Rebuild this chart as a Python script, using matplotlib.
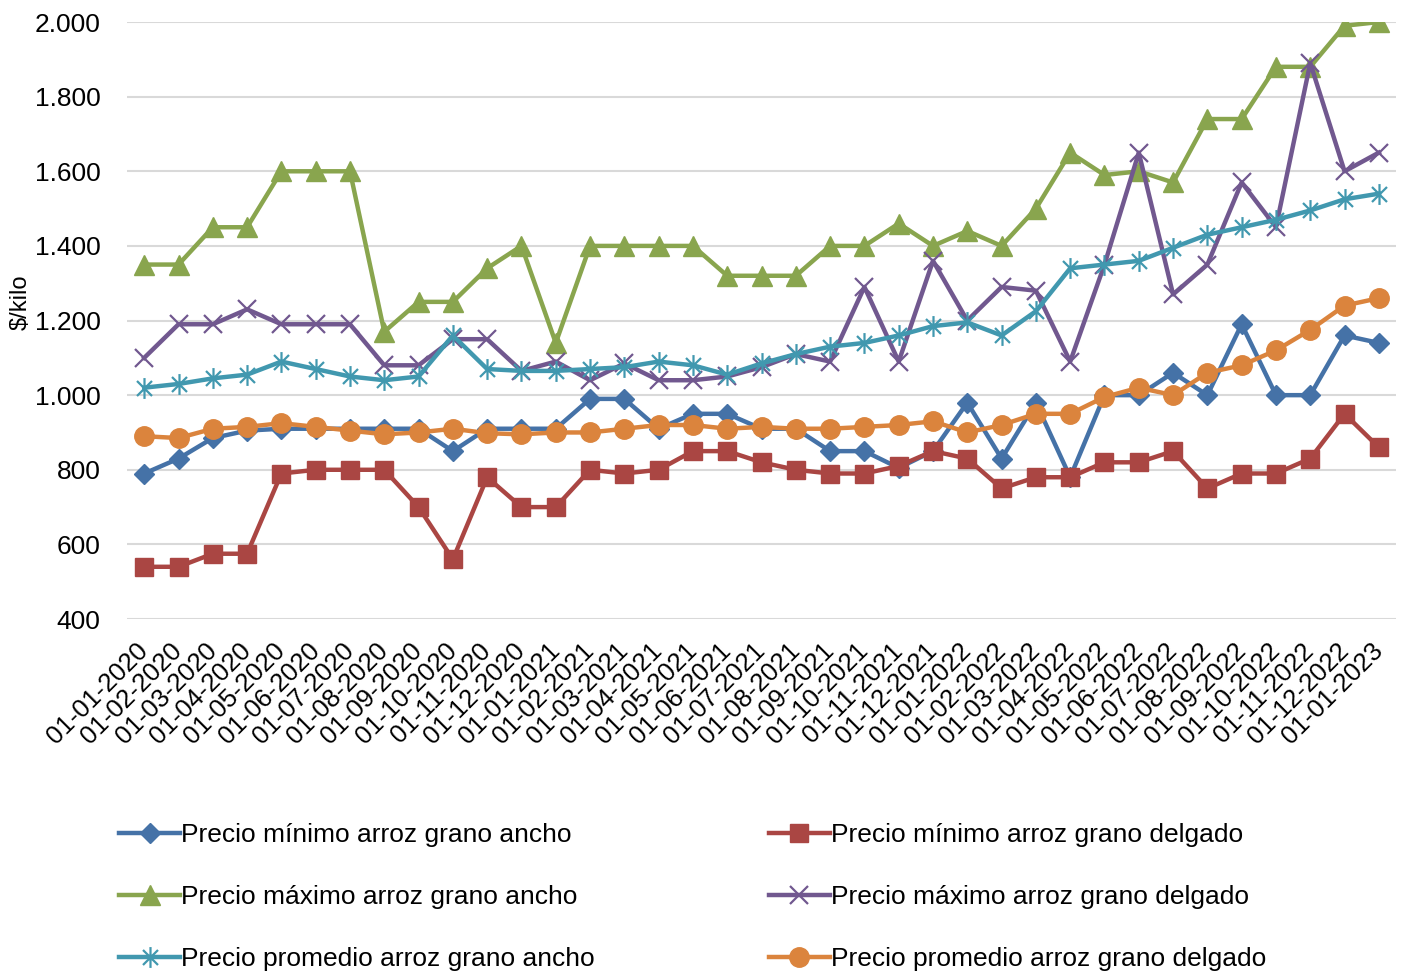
import matplotlib
matplotlib.use("Agg")
import matplotlib.pyplot as plt
from matplotlib.path import Path
from matplotlib.ticker import FuncFormatter, MultipleLocator

plt.rcParams['font.family'] = ['Liberation Sans', 'DejaVu Sans']

# Fechas (primer día de cada mes)
fechas = ["01-%02d-%d" % (m, a) for a in (2020, 2021, 2022) for m in range(1, 13)] + ["01-01-2023"]

min_ancho = [790, 830, 885, 905, 910, 910, 910, 910, 910, 850, 910, 910,
             910, 990, 990, 910, 950, 950, 910, 910, 850, 850, 805, 850,
             980, 830, 980, 780, 1000, 1000, 1060, 1000, 1190, 1000, 1000, 1160,
             1140]
min_delgado = [540, 540, 575, 575, 790, 800, 800, 800, 700, 560, 780, 700,
               700, 800, 790, 800, 850, 850, 820, 800, 790, 790, 810, 850,
               830, 750, 780, 780, 820, 820, 850, 750, 790, 790, 830, 950,
               860]
max_ancho = [1350, 1350, 1450, 1450, 1600, 1600, 1600, 1170, 1250, 1250, 1340, 1400,
             1140, 1400, 1400, 1400, 1400, 1320, 1320, 1320, 1400, 1400, 1460, 1400,
             1440, 1400, 1500, 1650, 1590, 1600, 1570, 1740, 1740, 1880, 1880, 1990,
             2000]
max_delgado = [1100, 1190, 1190, 1230, 1190, 1190, 1190, 1080, 1080, 1150, 1150, 1065,
               1090, 1040, 1085, 1040, 1040, 1050, 1075, 1110, 1090, 1290, 1090, 1360,
               1200, 1290, 1280, 1090, 1350, 1650, 1270, 1350, 1570, 1450, 1890, 1600,
               1650]
prom_ancho = [1020, 1030, 1045, 1055, 1090, 1070, 1050, 1040, 1050, 1160, 1070, 1065,
              1065, 1070, 1075, 1090, 1080, 1055, 1085, 1110, 1130, 1140, 1160, 1185,
              1195, 1160, 1225, 1340, 1350, 1360, 1395, 1430, 1450, 1470, 1495, 1525,
              1540]
prom_delgado = [890, 885, 910, 915, 925, 915, 905, 895, 900, 910, 898, 895,
                900, 900, 910, 920, 920, 910, 915, 910, 910, 915, 920, 930,
                900, 920, 950, 950, 995, 1020, 1000, 1060, 1080, 1120, 1175, 1240,
                1260]

# Marcador tipo asterisco (cruz + linea vertical)
asterisco = Path([(0, -1), (0, 1), (-0.72, -0.72), (0.72, 0.72), (-0.72, 0.72), (0.72, -0.72)],
                 [Path.MOVETO, Path.LINETO] * 3)

fig = plt.figure(figsize=(14.04, 9.75), dpi=100)
ax = fig.add_axes([0.0905, 0.3651, 0.9038, 0.6123])

x = list(range(len(fechas)))
lw = 3.2
l1, = ax.plot(x, min_ancho, color="#4572A7", lw=lw, marker="D", ms=10,
              label="Precio mínimo arroz grano ancho")
l2, = ax.plot(x, min_delgado, color="#AA4643", lw=lw, marker="s", ms=13.5,
              label="Precio mínimo arroz grano delgado")
l3, = ax.plot(x, max_ancho, color="#89A54E", lw=lw, marker="^", ms=15,
              label="Precio máximo arroz grano ancho")
l4, = ax.plot(x, max_delgado, color="#71588F", lw=lw, marker="x", ms=13, mew=1.6,
              label="Precio máximo arroz grano delgado")
l5, = ax.plot(x, prom_ancho, color="#4198AF", lw=lw, marker=asterisco, ms=15, mew=1.6,
              mfc="none", label="Precio promedio arroz grano ancho")
l6, = ax.plot(x, prom_delgado, color="#DB843D", lw=lw, marker="o", ms=14,
              label="Precio promedio arroz grano delgado")

ax.set_xlim(-0.5, len(fechas) - 0.5)
ax.set_ylim(400, 2000)
ax.yaxis.set_major_locator(MultipleLocator(200))
ax.yaxis.set_major_formatter(FuncFormatter(lambda v, p: f"{int(v):,}".replace(",", ".")))
ax.grid(axis="y", color="#D9D9D9", lw=1.5)
ax.set_axisbelow(True)
for s in ax.spines.values():
    s.set_visible(False)

ax.set_xticks(x)
ax.set_xticklabels(fechas, rotation=45, ha="right", va="center", rotation_mode="anchor",
                   fontsize=18.5)
ax.tick_params(axis="x", length=0, pad=20)
ax.tick_params(axis="y", length=0, pad=19, labelsize=19)

ax.set_ylabel("$/kilo", fontsize=17)
ax.yaxis.set_label_coords(-0.075, 0.53)

fig.legend(handles=[l1, l3, l5, l2, l4, l6], ncol=2, loc="upper left",
           bbox_to_anchor=(0.085, 0.156), frameon=False, fontsize=19,
           handlelength=2.3, handletextpad=0.05, labelspacing=1.45,
           columnspacing=6.6, borderpad=0, borderaxespad=0)

fig.savefig("out.png", dpi=100)
